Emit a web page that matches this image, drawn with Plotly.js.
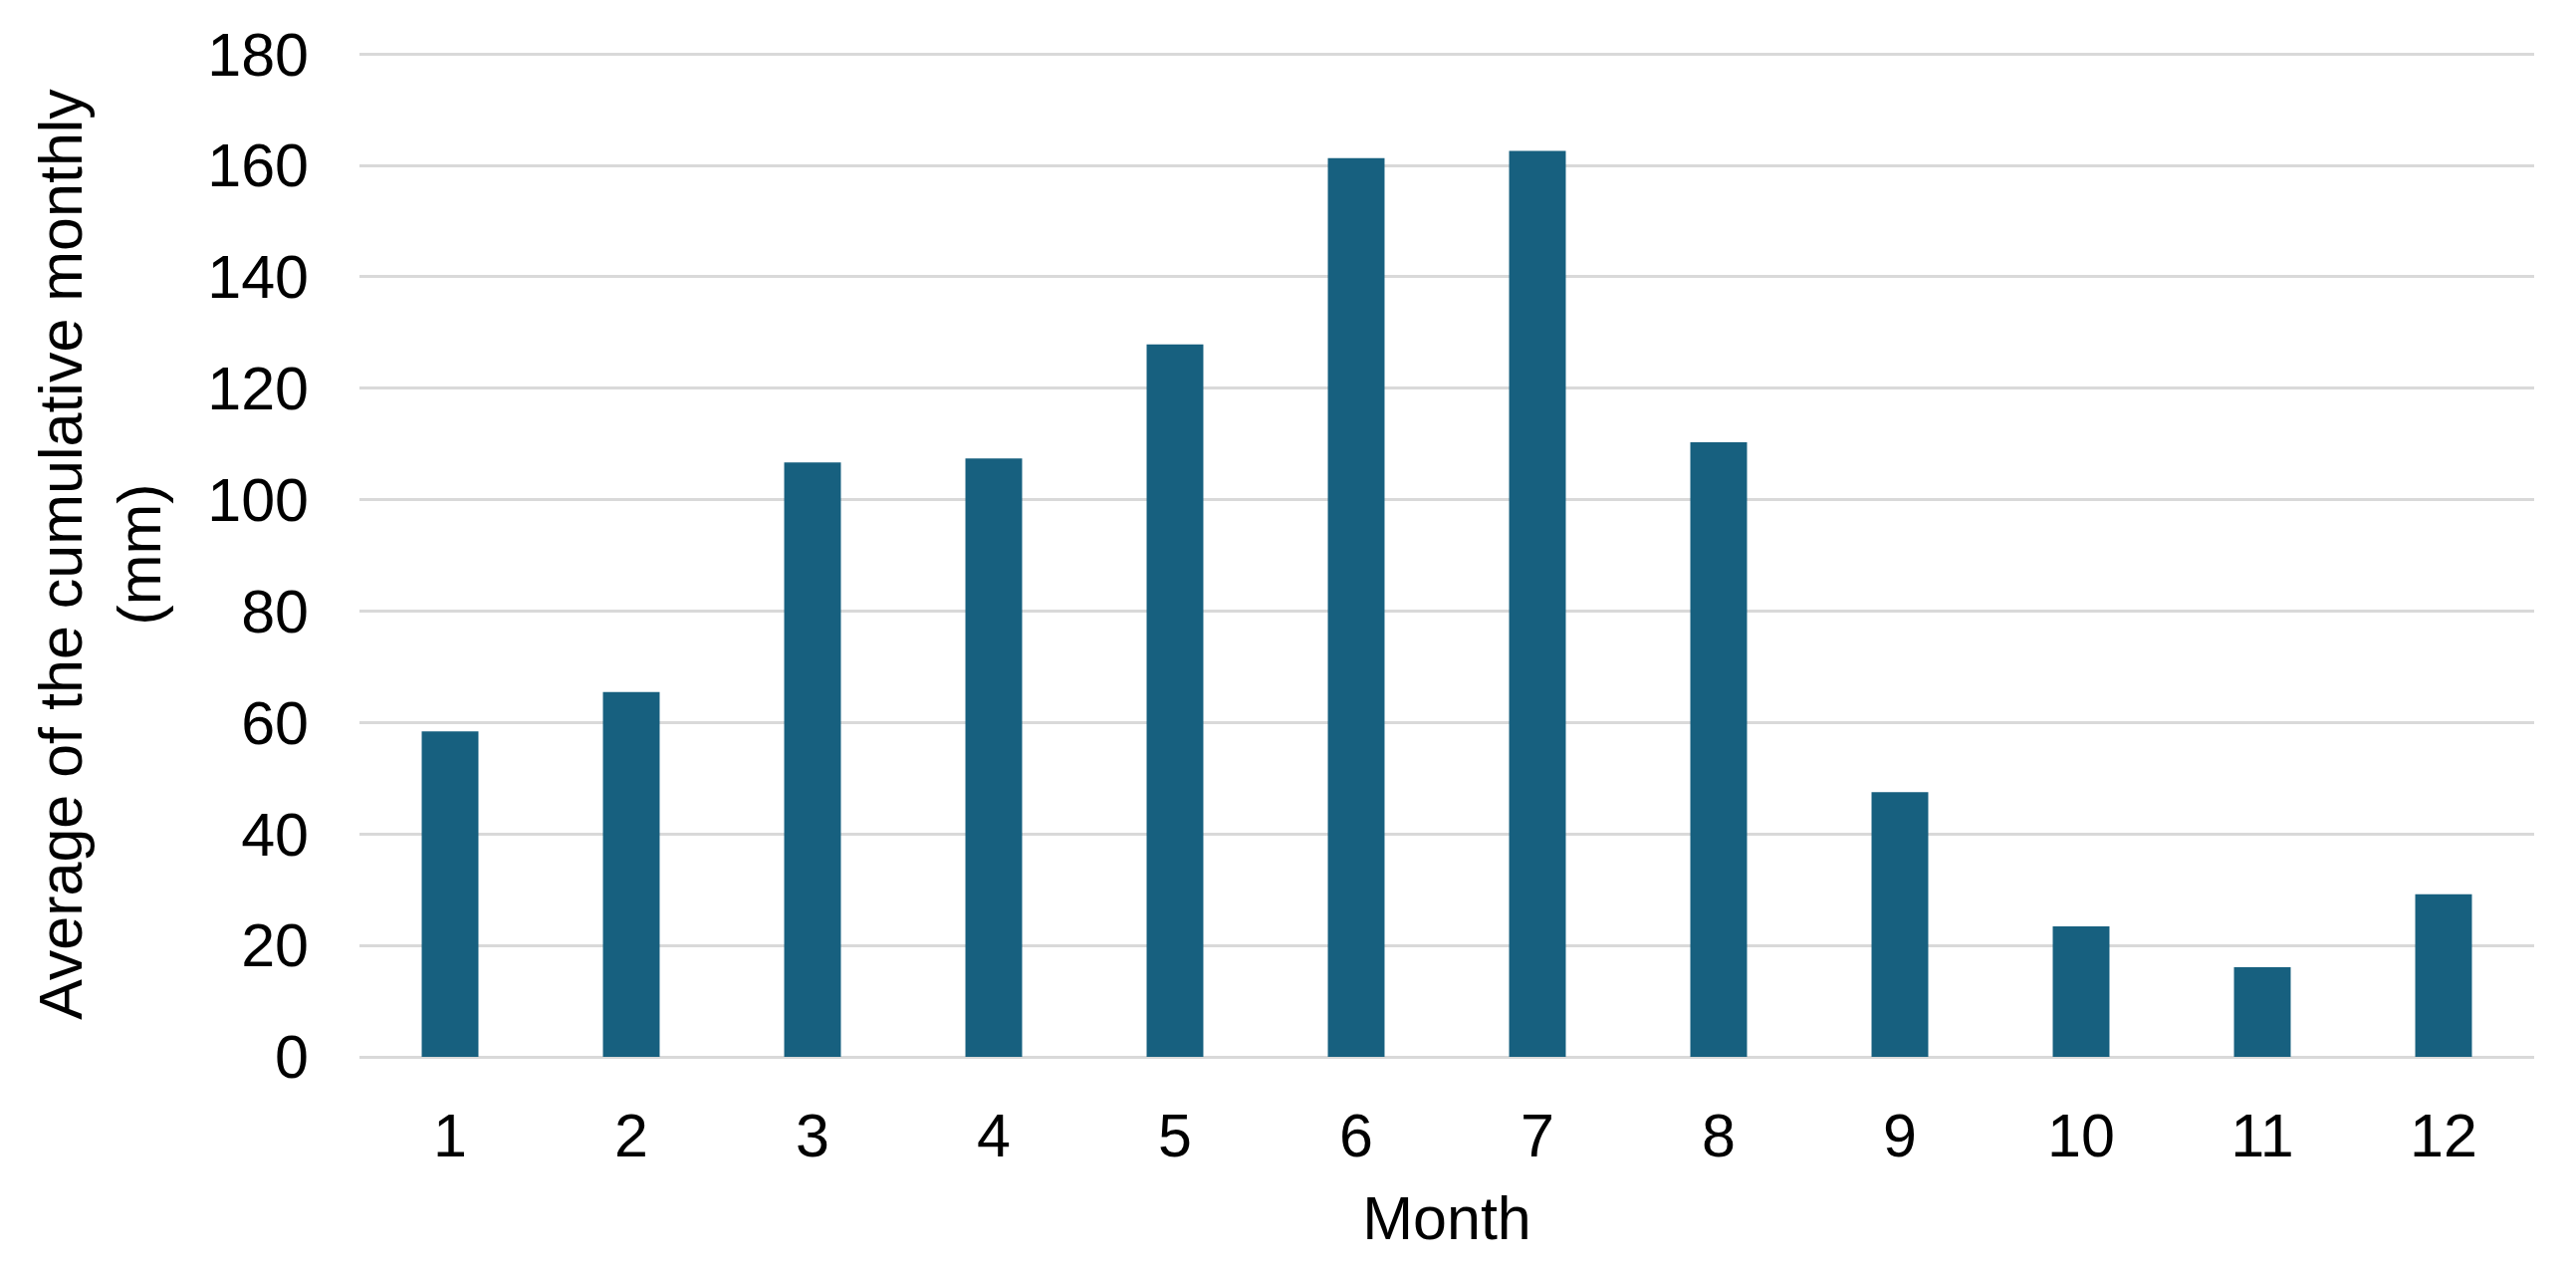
<!DOCTYPE html>
<html>
<head>
<meta charset="utf-8">
<script src="https://cdn.plot.ly/plotly-3.0.1.min.js"></script>
<style>
html,body{margin:0;padding:0;background:#fff;}
#chart{width:2587px;height:1281px;}
</style>
</head>
<body>
<div id="chart"></div>
<script>
const months = ["1","2","3","4","5","6","7","8","9","10","11","12"];
const rainfall = [58.4, 65.5, 106.7, 107.4, 127.9, 161.3, 162.6, 110.3, 47.5, 23.4, 16.1, 29.2];
const yTickVals = [0,20,40,60,80,100,120,140,160,180];
const xTitle = "Month";
const yTitle = "Average of the cumulative monthly<br>(mm)";

const fontFamily = '"Liberation Sans", Arial, sans-serif';

const data = [{
  type: 'bar',
  x: months,
  y: rainfall,
  marker: {color: '#17607f', line: {width: 0}},
  hoverinfo: 'x+y'
}];

const layout = {
  width: 2587,
  height: 1281,
  margin: {l: 361, r: 42, t: 52, b: 220, pad: 0},
  paper_bgcolor: '#ffffff',
  plot_bgcolor: '#ffffff',
  font: {family: fontFamily, size: 61, color: '#000000'},
  bargap: 0.687,
  showlegend: false,
  xaxis: {
    type: 'category',
    tickvals: months,
    ticktext: months,
    showgrid: false,
    showline: false,
    zeroline: false,
    ticks: '',
    ticklabelstandoff: 38,
    tickfont: {family: fontFamily, size: 61, color: '#000000'},
    title: {text: xTitle, font: {family: fontFamily, size: 61, color: '#000000'}, standoff: 28},
    automargin: false
  },
  yaxis: {
    range: [0, 180.4],
    tickvals: yTickVals,
    ticktext: yTickVals.map(String),
    showgrid: true,
    gridcolor: '#d9d9d9',
    gridwidth: 3,
    zeroline: true,
    zerolinecolor: '#d9d9d9',
    zerolinewidth: 3,
    showline: false,
    ticks: '',
    ticklabelstandoff: 50,
    tickfont: {family: fontFamily, size: 61, color: '#000000'},
    title: {text: yTitle, font: {family: fontFamily, size: 61, color: '#000000'}, standoff: 26},
    automargin: false
  }
};

Plotly.newPlot('chart', data, layout, {displayModeBar: false, staticPlot: true});
</script>
</body>
</html>
